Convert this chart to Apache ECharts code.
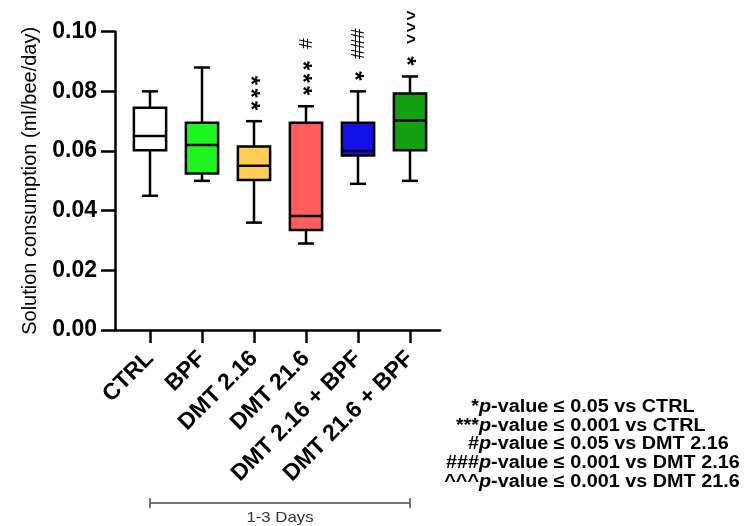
<!DOCTYPE html>
<html><head><meta charset="utf-8">
<script src="https://cdn.jsdelivr.net/npm/echarts@6/dist/echarts.min.js"></script>
<style>html,body{margin:0;padding:0;background:#fff}#c{width:746px;height:526px}</style>
</head><body><div id="c"></div>
<script>
// ---------- data ----------
const categories = ['CTRL', 'BPF', 'DMT 2.16', 'DMT 21.6', 'DMT 2.16 + BPF', 'DMT 21.6 + BPF'];
const whiskerMin = [0.045, 0.050, 0.036, 0.029, 0.049, 0.050];
const quartile1  = [0.0603, 0.0525, 0.0503, 0.0335, 0.0585, 0.0603];
const medians    = [0.065, 0.062, 0.0551, 0.0382, 0.060, 0.0702];
const quartile3  = [0.0745, 0.0695, 0.0615, 0.0695, 0.0695, 0.0793];
const whiskerMax = [0.080, 0.088, 0.070, 0.075, 0.080, 0.085];
const sigVsCtrl  = ['', '', '***', '***', '*', '*'];
const sigVsDmt   = ['', '', '', '#', '###', '^^^'];
const yMin = 0, yMax = 0.10, yStep = 0.02;
const yAxisTitle = 'Solution consumption (ml/bee/day)';
const periodLabel = '1-3 Days';
const legendPrefix = ['*', '***', '#', '###', '^^^'];
const legendBody = [
  '-value ≤ 0.05 vs CTRL',
  '-value ≤ 0.001 vs CTRL',
  '-value ≤ 0.05 vs DMT 2.16',
  '-value ≤ 0.001 vs DMT 2.16',
  '-value ≤ 0.001 vs DMT 21.6'
];
// ---------- styles ----------
const boxColors = ['#ffffff', '#1ef51e', '#ffcc55', '#ff5c5c', '#1212e8', '#10a010'];
const FONT = 'Liberation Sans, Arial, sans-serif';
const glyphStyle = {
  '*': {fontSize: 24, fontWeight: 'bold', step: 12.6, dx: -0.2},
  '#': {fontSize: 19, fontWeight: 'normal', step: 10, dx: -0.08},
  '^': {fontSize: 18, fontWeight: 'bold', step: 11.7, dx: -0.18}
};

const boxData = categories.map((c, i) => [i, whiskerMin[i], quartile1[i], medians[i], quartile3[i], whiskerMax[i]]);

const chart = echarts.init(document.getElementById('c'), null, {renderer: 'canvas'});

function glyphEl(ch, x, yc) {
  const g = glyphStyle[ch];
  return {
    type: 'text', x: x + g.dx * g.fontSize, y: yc, rotation: -Math.PI / 2,
    style: {text: ch, align: 'center', verticalAlign: 'middle', fill: '#000',
      fontFamily: FONT, fontSize: g.fontSize, fontWeight: g.fontWeight}
  };
}

function renderBox(params, api) {
  const i = params.dataIndex;
  const x = api.coord([i, 0])[0];
  const band = api.size([1, 0])[0];
  const bw = band * 0.62;
  const capHalf = bw / 4;
  const yLo = api.coord([i, api.value(1)])[1];
  const yQ1 = api.coord([i, api.value(2)])[1];
  const yMed = api.coord([i, api.value(3)])[1];
  const yQ3 = api.coord([i, api.value(4)])[1];
  const yHi = api.coord([i, api.value(5)])[1];
  const ls = {stroke: '#000', lineWidth: 2.5, fill: null};
  const children = [
    {type: 'line', shape: {x1: x, y1: yHi, x2: x, y2: yQ3}, style: ls},
    {type: 'line', shape: {x1: x, y1: yQ1, x2: x, y2: yLo}, style: ls},
    {type: 'line', shape: {x1: x - capHalf, y1: yHi, x2: x + capHalf, y2: yHi}, style: ls},
    {type: 'line', shape: {x1: x - capHalf, y1: yLo, x2: x + capHalf, y2: yLo}, style: ls},
    {type: 'rect', shape: {x: x - bw / 2, y: yQ3, width: bw, height: yQ1 - yQ3},
     style: {fill: boxColors[i], stroke: '#000', lineWidth: 2.5}},
    {type: 'line', shape: {x1: x - bw / 2, y1: yMed, x2: x + bw / 2, y2: yMed}, style: ls}
  ];
  // significance marks, stacked upward above the upper whisker (text rotated clockwise)
  let yc = yHi - 15.5;
  const s = sigVsCtrl[i], d = sigVsDmt[i];
  for (let k = s.length - 1; k >= 0; k--) {
    children.push(glyphEl(s[k], x, yc));
    if (k > 0) yc -= glyphStyle[s[k]].step;
  }
  if (d) {
    yc = s ? yc - 22 : yHi - 15.5;
    for (let k = d.length - 1; k >= 0; k--) {
      children.push(glyphEl(d[k], x, yc));
      yc -= glyphStyle[d[k]].step;
    }
  }
  return {type: 'group', children};
}

chart.setOption({
  animation: false,
  backgroundColor: '#fff',
  grid: [
    {left: 115, top: 31.7, width: 325, height: 298.3},
    {left: 124, top: 31.7, width: 312, height: 298.3}
  ],
  xAxis: [
    {gridIndex: 0, type: 'value', min: 0, max: 1,
     axisLine: {show: true, lineStyle: {color: '#000', width: 2.5}},
     axisTick: {show: false}, axisLabel: {show: false}, splitLine: {show: false}},
    {gridIndex: 1, type: 'category', data: categories, boundaryGap: true,
     axisLine: {show: false},
     axisTick: {show: true, alignWithLabel: true, length: 13, lineStyle: {color: '#000', width: 2.5}},
     axisLabel: {rotate: 45, margin: 25, color: '#000', fontFamily: FONT, fontWeight: 'bold', fontSize: 23, interval: 0},
     splitLine: {show: false}}
  ],
  yAxis: [
    {gridIndex: 0, type: 'value', min: yMin, max: yMax, interval: yStep,
     name: yAxisTitle, nameLocation: 'middle', nameGap: 75,
     nameTextStyle: {color: '#000', fontFamily: FONT, fontSize: 20},
     axisLine: {show: true, lineStyle: {color: '#000', width: 2.5}},
     axisTick: {show: true, length: 14, lineStyle: {color: '#000', width: 2.5}},
     axisLabel: {margin: 18, color: '#000', fontFamily: FONT, fontWeight: 'bold', fontSize: 23,
       formatter: v => v.toFixed(2)},
     splitLine: {show: false}},
    {gridIndex: 1, type: 'value', min: yMin, max: yMax, show: false, splitLine: {show: false}}
  ],
  series: [{
    type: 'custom', xAxisIndex: 1, yAxisIndex: 1,
    data: boxData,
    dimensions: ['idx', 'min', 'q1', 'median', 'q3', 'max'],
    encode: {x: 0, y: [1, 2, 3, 4, 5]},
    renderItem: renderBox
  }]
});

// bracket for the period, placed from the category scale
const xL = chart.convertToPixel({xAxisIndex: 1}, categories[0]);
const xR = chart.convertToPixel({xAxisIndex: 1}, categories[categories.length - 1]);
const bracketY = 503;
const legendX = 479;
const graphics = [
  {type: 'line', shape: {x1: xL, y1: bracketY, x2: xR, y2: bracketY}, style: {stroke: '#444', lineWidth: 1.5}},
  {type: 'line', shape: {x1: xL, y1: bracketY - 5, x2: xL, y2: bracketY + 5}, style: {stroke: '#444', lineWidth: 1.5}},
  {type: 'line', shape: {x1: xR, y1: bracketY - 5, x2: xR, y2: bracketY + 5}, style: {stroke: '#444', lineWidth: 1.5}},
  {type: 'text', x: (xL + xR) / 2, y: 518, scaleX: 1.12,
   style: {text: periodLabel, align: 'center', verticalAlign: 'middle', fill: '#333', fontFamily: FONT, fontSize: 15}}
];
legendBody.forEach((body, k) => {
  const y = 407 + 18.7 * k;
  graphics.push({
    type: 'text', x: legendX, y: y, scaleX: 1.1,
    style: {text: legendPrefix[k], align: 'right', verticalAlign: 'middle', fill: '#000',
      fontFamily: FONT, fontSize: 18, fontWeight: 'bold'}
  });
  graphics.push({
    type: 'text', x: legendX, y: y, scaleX: 1.1,
    style: {
      text: '{p|p}{b|' + body + '}',
      align: 'left', verticalAlign: 'middle', fill: '#000', fontFamily: FONT, fontSize: 18, fontWeight: 'bold',
      rich: {
        p: {fontFamily: FONT, fontSize: 18, fontWeight: 'bold', fontStyle: 'italic', fill: '#000'},
        b: {fontFamily: FONT, fontSize: 18, fontWeight: 'bold', fill: '#000'}
      }
    }
  });
});
chart.setOption({graphic: graphics});
</script>
</body></html>
